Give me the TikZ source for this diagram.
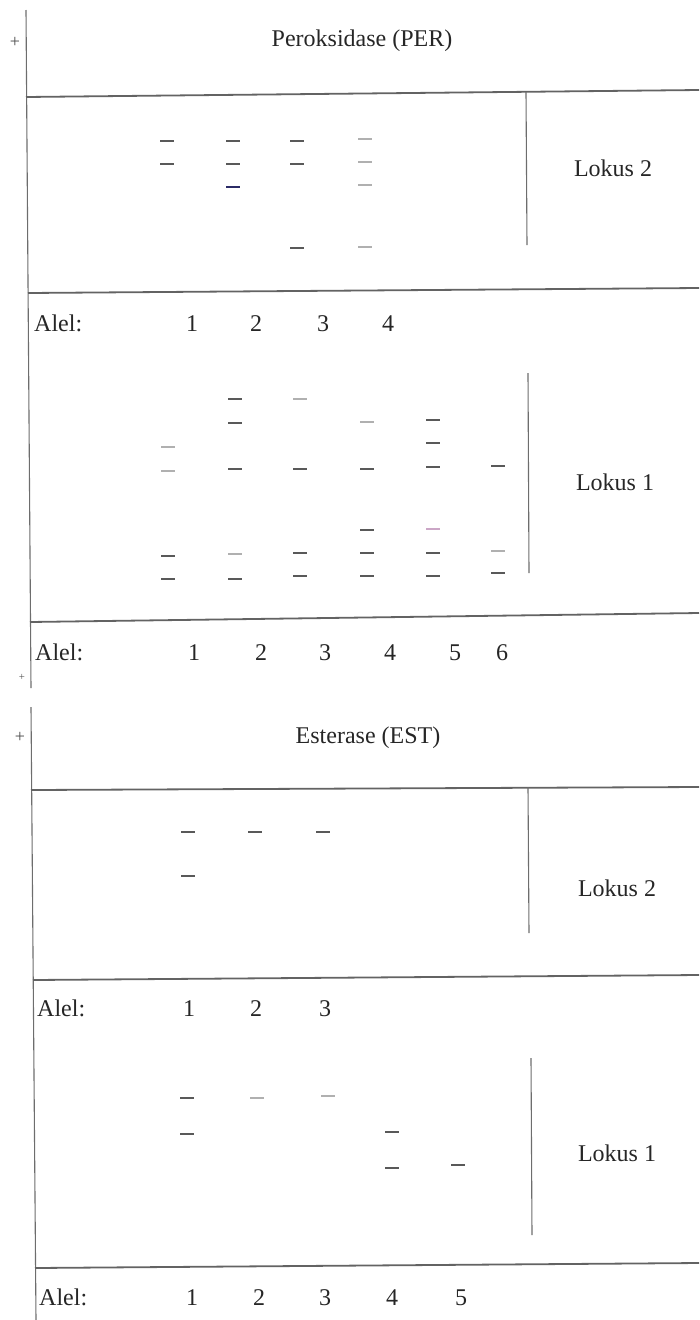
\documentclass[tikz,border=0pt]{standalone}
\usepackage{fontspec}
\setmainfont{Liberation Serif}
\usetikzlibrary{positioning}
\definecolor{Ink}{HTML}{3C3C3C}
\definecolor{Pale}{HTML}{B0B0B0}
\definecolor{Navy}{HTML}{2B2B66}
\definecolor{Rose}{HTML}{CBA6C6}

\begin{document}
\begin{tikzpicture}[x=1pt,y=-1pt,
    rule/.style={line width=1.8pt,Ink!80},
    sep/.style={line width=1.1pt,Ink!75},
    band/.style={line width=2pt,Ink!85},
    faint/.style={line width=1.8pt,Pale},
    lbl/.style={font=\fontsize{24}{28}\selectfont,inner sep=0pt,anchor=base,text=black!85},
    pole/.style={font=\fontsize{18}{20}\selectfont,inner sep=0pt,text=black!70}
  ]
  \useasboundingbox (0,0) rectangle (699,1320);

  % gel axis and polarity marks
  \draw[sep] (26,10) -- (31,688);
  \draw[sep] (31,707) -- (36,1320);
  \node[pole] (plusA) at (15,42) {+};
  \node[pole,scale=.6] (minusB) at (22,677) {+};
  \node[pole] (plusB) at (20,737) {+};

  % horizontal rules
  \draw[rule] (26,97) -- (699,90);
  \draw[rule] (28,293) -- (699,288);
  \draw[rule] (30,622) -- (699,613);
  \draw[rule] (31,790) -- (699,787);
  \draw[rule] (33,980) -- (699,975);
  \draw[rule] (35,1268) -- (699,1263);

  % locus separators
  \draw[sep] (526,92) -- (527,245);
  \draw[sep] (528,373) -- (529,573);
  \draw[sep] (528,787) -- (529,933);
  \draw[sep] (531,1058) -- (532,1235);

  % Peroksidase
  \node[lbl] (perTitle) at (362,46) {Peroksidase (PER)};
  \node[lbl] (per2) at (613,176) {Lokus 2};
  \node[lbl] (per1) at (615,490) {Lokus 1};
  \foreach \x/\y in {167/141,167/164,233/141,233/164,297/141,297/164,297/248}
    \draw[band] (\x-7,\y) -- ++(14,0);
  \draw[band,Navy] (226,187) -- ++(14,0);
  \foreach \x/\y in {365/139,365/162,365/185,365/247}
    \draw[faint] (\x-7,\y) -- ++(14,0);
  \foreach \x/\y in {168/556,168/579,235/399,235/423,235/469,235/579,300/469,300/553,
      300/576,367/469,367/530,367/553,367/576,433/420,433/443,433/467,433/553,433/576,
      498/466,498/573}
    \draw[band] (\x-7,\y) -- ++(14,0);
  \foreach \x/\y in {168/447,168/471,235/554,300/399,367/422,498/551}
    \draw[faint] (\x-7,\y) -- ++(14,0);
  \draw[faint,Rose] (426,529) -- ++(14,0);

  \node[lbl,anchor=base west] (alelA) at (34,331) {Alel:};
  \foreach \n/\x in {1/192,2/256,3/323,4/388}
    \node[lbl] (perTwo\n) at (\x,331) {\n};
  \node[lbl,anchor=base west] (alelB) at (35,660) {Alel:};
  \foreach \n/\x in {1/194,2/261,3/325,4/390,5/455,6/502}
    \node[lbl] (perOne\n) at (\x,660) {\n};

  % Esterase
  \node[lbl] (estTitle) at (368,743) {Esterase (EST)};
  \node[lbl] (est2) at (617,896) {Lokus 2};
  \node[lbl] (est1) at (617,1161) {Lokus 1};
  \foreach \x/\y in {188/832,255/832,323/832,188/876,187/1098,187/1134,392/1132,
      392/1168,458/1165}
    \draw[band] (\x-7,\y) -- ++(14,0);
  \foreach \x/\y in {257/1098,328/1096}
    \draw[faint] (\x-7,\y) -- ++(14,0);

  \node[lbl,anchor=base west] (alelC) at (37,1016) {Alel:};
  \foreach \n/\x in {1/189,2/256,3/325}
    \node[lbl] (estTwo\n) at (\x,1016) {\n};
  \node[lbl,anchor=base west] (alelD) at (39,1305) {Alel:};
  \foreach \n/\x in {1/192,2/259,3/325,4/392,5/461}
    \node[lbl] (estOne\n) at (\x,1305) {\n};
\end{tikzpicture}
\end{document}
